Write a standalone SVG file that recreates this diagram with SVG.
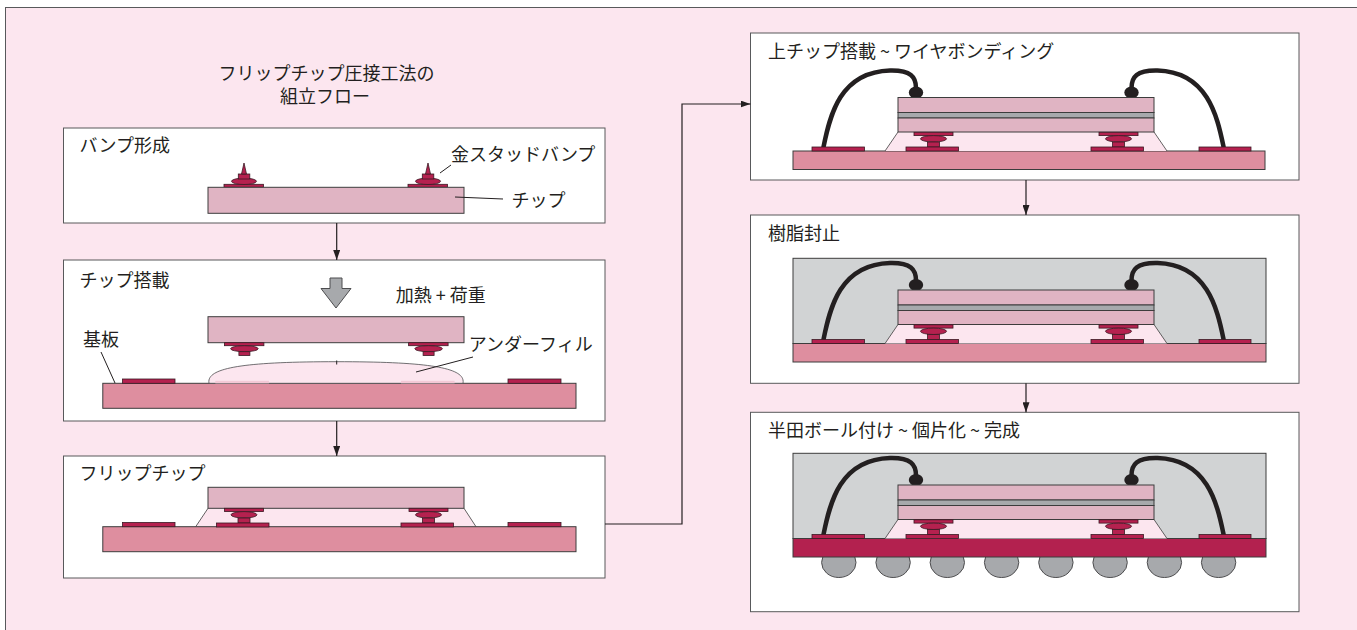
<svg xmlns="http://www.w3.org/2000/svg" xmlns:xlink="http://www.w3.org/1999/xlink" width="1357" height="630" viewBox="0 0 1357 630">
  <style>
    .panel{fill:#fff;stroke:#58595b;stroke-width:1}
    .chip{fill:#e0b4c3;stroke:#3c3c3c;stroke-width:1}
    .sub{fill:#de8e9f;stroke:#3c3c3c;stroke-width:1}
    .subd{fill:#b3214f;stroke:#3c3c3c;stroke-width:1}
    .pad{fill:#b5214f;stroke:#3a1a24;stroke-width:0.8}
    .layer{fill:#a7a9ac;stroke:#3c3c3c;stroke-width:1}
    .mold{fill:#d1d3d4;stroke:#3c3c3c;stroke-width:1}
    .uf{fill:#fce6ef;stroke:none}
    .fil{fill:none;stroke:#3c3c3c;stroke-width:0.8}
    .wire{fill:none;stroke:#231f20;stroke-width:4.5;stroke-linecap:round}
    .wb{fill:#231f20}
    .sball{fill:#a7a9ac;stroke:#4d4d4f;stroke-width:1}
    .lbl{font-family:"Noto Sans CJK JP","Noto Sans",sans-serif;font-size:18px;fill:#231f20}
    .lead{stroke:#231f20;stroke-width:1;fill:none}
    .conn{stroke:#231f20;stroke-width:1.2;fill:none;marker-end:url(#ah)}
  </style>
  <defs>
    <marker id="ah" viewBox="0 0 10 7" refX="10" refY="3.5" markerWidth="10" markerHeight="7" markerUnits="userSpaceOnUse" orient="auto">
      <path d="M0,0 L10,3.5 L0,7 z" fill="#231f20"/>
    </marker>
    <!-- gold stud bump on a bare chip -->
    <g id="stud">
      <rect class="pad" x="-20" y="184.3" width="39.5" height="3"/>
      <ellipse class="pad" cx="0" cy="181.3" rx="12.5" ry="3.2"/>
      <rect class="pad" x="-5.7" y="174" width="11.5" height="5"/>
      <polygon class="pad" points="-2.5,174 2.5,174 0,163"/>
    </g>
    <!-- stud bump after flipping, before bonding -->
    <g id="flipbump">
      <rect class="pad" x="-20" y="342.7" width="39.5" height="3"/>
      <ellipse class="pad" cx="0" cy="348.7" rx="13.8" ry="3"/>
      <rect class="pad" x="-5.5" y="351.7" width="11" height="3.8"/>
    </g>
    <!-- bonded bump: chip pad, bump, substrate pad -->
    <g id="joint">
      <rect class="pad" x="-19.5" y="0" width="39" height="3.3"/>
      <ellipse class="pad" cx="0" cy="6.5" rx="13" ry="3.2"/>
      <rect class="pad" x="-6" y="9.7" width="12" height="5"/>
      <rect class="pad" x="-27.5" y="14.7" width="52.5" height="4"/>
    </g>
    <!-- stacked package: underfill, wires, chips, bumps, pads -->
    <g id="stack">
      <polygon class="uf" points="898,132 1154,132 1167,151 885,151"/>
      <line class="fil" x1="898" y1="132" x2="885" y2="151"/>
      <line class="fil" x1="1154" y1="132" x2="1167" y2="151"/>
      <path class="wire" d="M823.5,147 C830,115 840,72 890,70.5 C911,70 916,77 916,88"/>
      <path class="wire" d="M1223.6,147 C1217,115 1207,72 1157.5,70.5 C1136.5,70 1131.5,77 1131.5,88"/>
      <ellipse class="wb" cx="916" cy="92.5" rx="7.2" ry="6"/>
      <ellipse class="wb" cx="1131.5" cy="92.5" rx="7.2" ry="6"/>
      <rect class="chip" x="898" y="97.5" width="256" height="15"/>
      <rect class="layer" x="898" y="112.5" width="256" height="5.5"/>
      <rect class="chip" x="898" y="118" width="256" height="14"/>
      <use xlink:href="#joint" transform="translate(933.5,132.3)"/>
      <use xlink:href="#joint" transform="translate(1118.5,132.3)"/>
      <rect class="pad" x="812" y="147" width="52.5" height="4"/>
      <rect class="pad" x="1199" y="147" width="52" height="4"/>
    </g>
  </defs>

  <!-- page frame -->
  <rect x="5.5" y="7.5" width="1400" height="700" fill="#fce6ef" stroke="#58595b" stroke-width="1"/>

  <g id="title">
    <text class="lbl" x="326.5" y="80" text-anchor="middle">フリップチップ圧接工法の</text>
    <text class="lbl" x="325" y="102.5" text-anchor="middle">組立フロー</text>
  </g>

  <!-- step 1: bump forming -->
  <g id="step-bump">
    <rect class="panel" x="63.5" y="128" width="541.5" height="95"/>
    <text class="lbl" x="79.6" y="152">バンプ形成</text>
    <use xlink:href="#stud" transform="translate(244,0)"/>
    <use xlink:href="#stud" transform="translate(428,0)"/>
    <rect class="chip" x="208" y="187.3" width="256" height="26"/>
    <text class="lbl" x="451" y="160.5">金スタッドバンプ</text>
    <line class="lead" x1="440" y1="173" x2="451" y2="165"/>
    <text class="lbl" x="511.6" y="206.5">チップ</text>
    <line class="lead" x1="455" y1="197" x2="503" y2="199"/>
  </g>

  <!-- step 2: chip mounting -->
  <g id="step-mount">
    <rect class="panel" x="63.5" y="260" width="541.5" height="161"/>
    <text class="lbl" x="79.6" y="287">チップ搭載</text>
    <polygon points="330,278 342,278 342,288.5 351,288.5 336,308 321,288.5 330,288.5" fill="#a7a9ac" stroke="#4d4d4f" stroke-width="1"/>
    <text class="lbl" x="395.7" y="301.5">加熱 + 荷重</text>
    <rect class="chip" x="208" y="316.7" width="256" height="26"/>
    <use xlink:href="#flipbump" transform="translate(244.4,0)"/>
    <use xlink:href="#flipbump" transform="translate(428.6,0)"/>
    <rect class="sub" x="102.8" y="383.3" width="473.2" height="25"/>
    <rect class="pad" x="122.5" y="379" width="52.5" height="4.3"/>
    <rect class="pad" x="508" y="379" width="53" height="4.3"/>
    <path d="M209,383.3 C206,368 242,361.7 336.7,361.7 C431,361.7 466,368 463,383.3 Z" fill="#fce6ef" stroke="#4d4d4f" stroke-width="0.8"/>
    <rect x="215.3" y="380.8" width="53.7" height="2.5" fill="#f3c9d6"/>
    <rect x="401" y="380.8" width="53.6" height="2.5" fill="#f3c9d6"/>
    <line class="lead" x1="336.7" y1="360.5" x2="336.7" y2="364.5"/>
    <text class="lbl" x="83" y="345.5">基板</text>
    <line class="lead" x1="101" y1="352" x2="115" y2="383"/>
    <text class="lbl" x="468.8" y="350.5">アンダーフィル</text>
    <line class="lead" x1="416" y1="372" x2="473" y2="357"/>
  </g>

  <!-- step 3: flip chip bonded -->
  <g id="step-flip">
    <rect class="panel" x="63.5" y="456" width="541.5" height="122"/>
    <text class="lbl" x="79.6" y="480">フリップチップ</text>
    <polygon class="uf" points="208,508.3 464,508.3 476,526.7 195.7,526.7"/>
    <line class="fil" x1="208" y1="508.3" x2="195.7" y2="526.7"/>
    <line class="fil" x1="464" y1="508.3" x2="476" y2="526.7"/>
    <rect class="chip" x="208" y="487.3" width="256" height="21"/>
    <rect class="sub" x="102.8" y="526.7" width="473.2" height="25"/>
    <use xlink:href="#joint" transform="translate(244,508.3)"/>
    <use xlink:href="#joint" transform="translate(428.5,508.3)"/>
    <rect class="pad" x="122.5" y="522.5" width="52.5" height="4.2"/>
    <rect class="pad" x="508" y="522.5" width="53" height="4.2"/>
  </g>

  <!-- step 4: upper chip and wire bonding -->
  <g id="step-wire">
    <rect class="panel" x="750.5" y="33" width="548.5" height="147"/>
    <text class="lbl" x="768" y="58">上チップ搭載 ~ ワイヤボンディング</text>
    <rect class="sub" x="793" y="151" width="472" height="18.5"/>
    <use xlink:href="#stack"/>
  </g>

  <!-- step 5: resin molding -->
  <g id="step-mold">
    <rect class="panel" x="750.5" y="215" width="548.5" height="168.3"/>
    <text class="lbl" x="768" y="240">樹脂封止</text>
    <g transform="translate(0,192.5)">
      <rect class="mold" x="793" y="65.8" width="473" height="85.2"/>
      <rect class="sub" x="793" y="151" width="473" height="18.5"/>
      <use xlink:href="#stack"/>
    </g>
  </g>

  <!-- step 6: solder balls, singulation, finished -->
  <g id="step-final">
    <rect class="panel" x="750.5" y="412.3" width="548.5" height="199.4"/>
    <text class="lbl" x="768" y="437">半田ボール付け ~ 個片化 ~ 完成</text>
    <g transform="translate(0,387.5)">
      <g id="solder-balls">
        <ellipse class="sball" cx="838.8" cy="175" rx="17.2" ry="15"/>
        <ellipse class="sball" cx="893.1" cy="175" rx="17.2" ry="15"/>
        <ellipse class="sball" cx="947.3" cy="175" rx="17.2" ry="15"/>
        <ellipse class="sball" cx="1001.6" cy="175" rx="17.2" ry="15"/>
        <ellipse class="sball" cx="1055.9" cy="175" rx="17.2" ry="15"/>
        <ellipse class="sball" cx="1110.1" cy="175" rx="17.2" ry="15"/>
        <ellipse class="sball" cx="1164.4" cy="175" rx="17.2" ry="15"/>
        <ellipse class="sball" cx="1218.6" cy="175" rx="17.2" ry="15"/>
      </g>
      <rect class="mold" x="793" y="65.8" width="473" height="85.2"/>
      <rect class="subd" x="793" y="151" width="473" height="18.5"/>
      <use xlink:href="#stack"/>
    </g>
  </g>

  <!-- flow connectors -->
  <g id="connectors">
    <line class="conn" x1="336.7" y1="223" x2="336.7" y2="260"/>
    <line class="conn" x1="336.7" y1="421" x2="336.7" y2="456"/>
    <polyline class="conn" points="605,524 682,524 682,104 750.5,104"/>
    <line class="conn" x1="1026" y1="180" x2="1026" y2="215"/>
    <line class="conn" x1="1026" y1="383.3" x2="1026" y2="412.3"/>
  </g>
</svg>
